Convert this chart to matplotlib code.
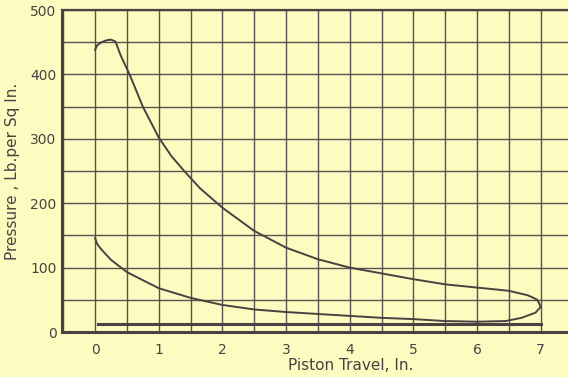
import numpy as np
import matplotlib.pyplot as plt

# expansion line (upper)
upper_x = [0.0, 0.03, 0.1, 0.18, 0.25, 0.32, 0.4, 0.55, 0.75, 1.0, 1.2, 1.4, 1.65,
           2.0, 2.5, 3.0, 3.5, 4.0, 4.5, 5.0, 5.5, 6.0, 6.5, 6.8, 6.95, 7.0,
           6.92, 6.7, 6.45]
upper_p = [438, 445, 450, 453, 454, 451, 430, 398, 350, 302, 273, 250, 223,
           193, 157, 131, 113, 100, 91, 82, 74, 69, 64, 57, 50, 39,
           30, 22, 17]

# compression line (lower)
lower_x = [6.45, 6.0, 5.5, 5.0, 4.5, 4.0, 3.5, 3.0, 2.5, 2.0, 1.5, 1.0, 0.5,
           0.25, 0.1, 0.03, 0.0]
lower_p = [17, 16, 17, 20, 22, 25, 28, 31, 35, 42, 53, 68, 93,
           112, 128, 137, 146]

# atmospheric line
atm_x = [0.05, 7.0]
atm_p = [13, 13]

x_ticks = [0, 1, 2, 3, 4, 5, 6, 7]
y_ticks = [0, 100, 200, 300, 400, 500]

bg = "#fdfbc0"
ink = "#4a4242"

fig = plt.figure(figsize=(5.68, 3.77), dpi=100)
fig.patch.set_facecolor(bg)
ax = fig.add_axes([62 / 568, 45 / 377, 506 / 568, 322 / 377])
ax.set_facecolor(bg)

ax.set_xlim(-0.52, 7.43)
ax.set_ylim(0, 500)

ax.set_xticks(x_ticks)
ax.set_yticks(y_ticks)
ax.set_xticks(np.arange(-0.5, 7.5, 0.5), minor=True)
ax.set_yticks(np.arange(0, 501, 50), minor=True)
ax.grid(which="both", color="#5a5050", lw=1.0)
ax.set_axisbelow(True)
ax.tick_params(which="both", length=0, colors=ink, labelsize=10)
ax.tick_params(axis="x", pad=8)
ax.tick_params(axis="y", pad=4)

for s in ["left", "bottom"]:
    ax.spines[s].set_linewidth(2.2)
    ax.spines[s].set_color(ink)
ax.spines["top"].set_linewidth(1.6)
ax.spines["top"].set_color(ink)
ax.spines["right"].set_visible(False)

ax.plot(upper_x, upper_p, color=ink, lw=1.4)
ax.plot(lower_x, lower_p, color=ink, lw=1.4)
ax.plot(atm_x, atm_p, color=ink, lw=2.2)

fig.text(351 / 568, 1 - 365 / 377, "Piston Travel, In.", ha="center", va="center",
         fontsize=11, color=ink)
fig.text(13 / 568, 1 - 171 / 377, "Pressure , Lb.per Sq In.", ha="center", va="center",
         rotation=90, fontsize=11, color=ink)

fig.savefig("out.png", dpi=100, facecolor=bg)
